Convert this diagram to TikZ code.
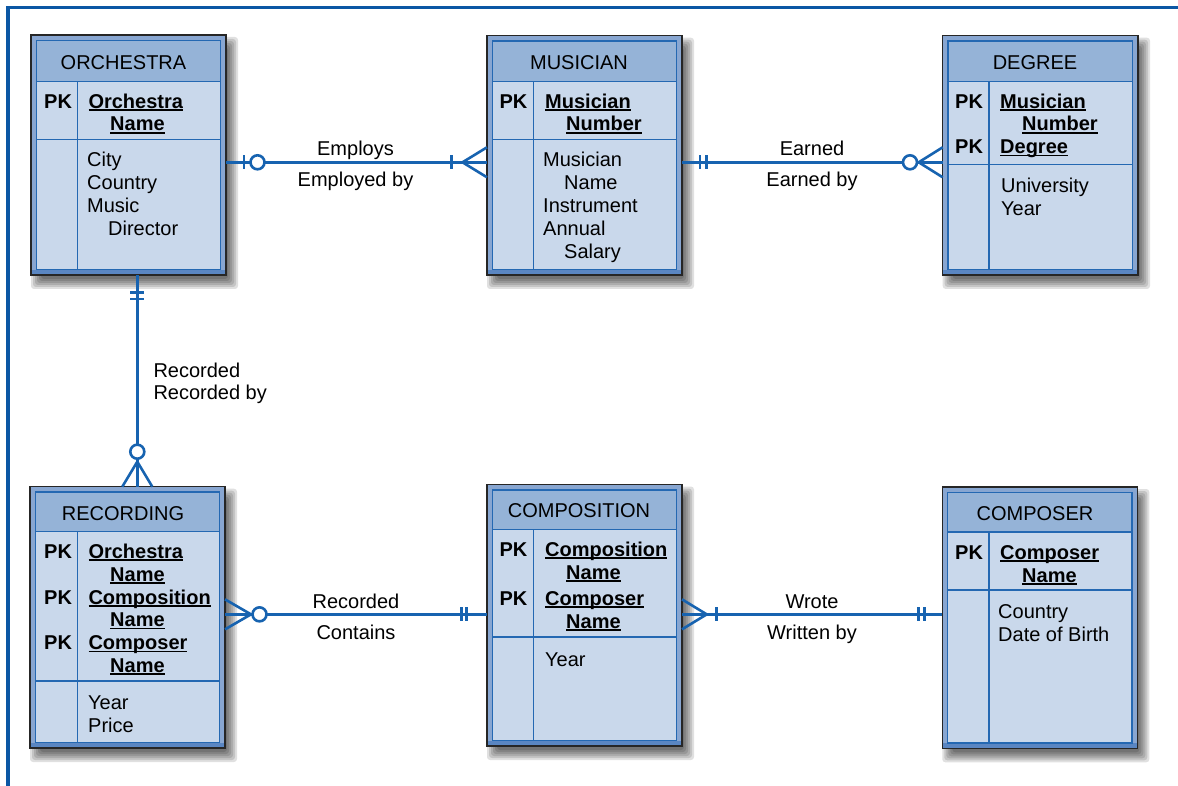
\documentclass[tikz,border=0pt]{standalone}
\usepackage{fontspec}
\setmainfont{Liberation Sans}
\usetikzlibrary{calc}

\definecolor{framecol}{HTML}{0B57A4}
\definecolor{relcol}{HTML}{1763B0}
\definecolor{headfill}{HTML}{95B3D7}
\definecolor{bodyfill}{HTML}{C9D8EB}
\definecolor{ringfill}{HTML}{88A6D1}
\definecolor{ringdark}{HTML}{5A86C2}
\definecolor{linecol}{HTML}{2468B2}
\definecolor{edgecol}{HTML}{262626}

% bold key attribute with a solid underline just below the baseline
\newcommand\keyattr[1]{\setbox0\hbox{\bfseries #1}\rlap{\rule[-2.6pt]{\wd0}{1.4pt}}\box0}

% entity table: #1 name, #2..#5 outer x0,y0,x1,y1, #6 header rule y,
% #7 key column x, #8 body rule y
\newcommand\entity[8]{%
  \foreach \e in {12,10,8,6,4,2}{%
    \fill[black, opacity=0.12, rounded corners=3pt]
      (#2+12-\e, #3+14-\e) rectangle (#4+\e, #5+2+\e);}
  \node[draw=edgecol, line width=1.3pt, fill=ringfill, inner sep=0pt,
        outer sep=0pt, anchor=north west,
        minimum width={#4-#2}, minimum height={#5-#3}] (#1) at (#2,#3) {};
  \fill[ringdark] (#2+0.7,#5-5.3) rectangle (#4-0.7,#5-0.7);
  \fill[bodyfill] (#2+5.3,#3+5.3) rectangle (#4-5.3,#5-5.3);
  \fill[headfill] (#2+5.3,#3+5.3) rectangle (#4-5.3,#6);
  \draw[linecol, line width=1.4pt] (#2+5.3,#3+5.3) rectangle (#4-5.3,#5-5.3);
  \draw[linecol, line width=1.4pt]
    (#2+5.3,#6) -- (#4-5.3,#6)
    (#7,#6) -- (#7,#5-5.3)
    (#2+5.3,#8) -- (#4-5.3,#8);
}

\begin{document}
\begin{tikzpicture}[
  x=1pt, y=-1pt,
  txt/.style={anchor=base west, inner sep=0pt, yshift=-1pt, font=\fontsize{20}{24}\selectfont},
  title/.style={anchor=base, inner sep=0pt, font=\fontsize{20}{24}\selectfont},
  rel/.style={draw=relcol, line width=2.6pt},
]
\useasboundingbox (0,0) rectangle (1178,786);
\fill[white] (0,0) rectangle (1178,786);

% page frame (top and left rules)
\draw[framecol, line width=3.3pt] (8,790) -- (8,7.7) -- (1182,7.7);

% entity tables
\entity{orch}{31}{35}{226}{275}{81.7}{77.7}{139.3}
\entity{mus}{487}{35.7}{682}{275}{81.7}{533.3}{139.3}
\entity{deg}{942.7}{35.7}{1138}{275}{81.7}{989}{164.3}
\entity{rec}{30}{486.7}{225}{748}{531.7}{77.3}{681}
\entity{comp}{487}{484.5}{682}{746}{529.5}{533.3}{637}
\entity{compr}{942.3}{487}{1137.3}{748.3}{532}{989}{590}

% ORCHESTRA
\node[title] (orch-t) at (123.5,70) {ORCHESTRA};
\node[txt] (orch-pk) at (44,107.3) {\textbf{PK}};
\node[txt] (orch-k1) at (88.3,107.3) {\keyattr{Orchestra}};
\node[txt] (orch-k2) at (110,130) {\keyattr{Name}};
\node[txt] (orch-a1) at (87,166) {City};
\node[txt] (orch-a2) at (87,188.8) {Country};
\node[txt] (orch-a3) at (87,211.6) {Music};
\node[txt] (orch-a4) at (108,234.4) {Director};

% MUSICIAN
\node[title] (mus-t) at (579,70) {MUSICIAN};
\node[txt] (mus-pk) at (499.3,107.3) {\textbf{PK}};
\node[txt] (mus-k1) at (545,107.3) {\keyattr{Musician}};
\node[txt] (mus-k2) at (566,130) {\keyattr{Number}};
\node[txt] (mus-a1) at (543,166) {Musician};
\node[txt] (mus-a2) at (564,188.8) {Name};
\node[txt] (mus-a3) at (543,211.6) {Instrument};
\node[txt] (mus-a4) at (543,234.4) {Annual};
\node[txt] (mus-a5) at (564,257.2) {Salary};

% DEGREE
\node[title] (deg-t) at (1035,70) {DEGREE};
\node[txt] (deg-pk1) at (955,107.3) {\textbf{PK}};
\node[txt] (deg-k1) at (1000,107.3) {\keyattr{Musician}};
\node[txt] (deg-k2) at (1022,130) {\keyattr{Number}};
\node[txt] (deg-pk2) at (955,152.5) {\textbf{PK}};
\node[txt] (deg-k3) at (1000,152.5) {\keyattr{Degree}};
\node[txt] (deg-a1) at (1001,191.7) {University};
\node[txt] (deg-a2) at (1001,214.5) {Year};

% RECORDING
\node[title] (rec-t) at (123,520.3) {RECORDING};
\node[txt] (rec-pk1) at (44,557) {\textbf{PK}};
\node[txt] (rec-k1) at (88.3,557) {\keyattr{Orchestra}};
\node[txt] (rec-k2) at (110,580) {\keyattr{Name}};
\node[txt] (rec-pk2) at (44,603) {\textbf{PK}};
\node[txt] (rec-k3) at (88.3,603) {\keyattr{Composition}};
\node[txt] (rec-k4) at (110,625.5) {\keyattr{Name}};
\node[txt] (rec-pk3) at (44,648.5) {\textbf{PK}};
\node[txt] (rec-k5) at (88.3,648.5) {\keyattr{Composer}};
\node[txt] (rec-k6) at (110,671) {\keyattr{Name}};
\node[txt] (rec-a1) at (88,708.3) {Year};
\node[txt] (rec-a2) at (88,731) {Price};

% COMPOSITION
\node[title] (comp-t) at (579,517.5) {COMPOSITION};
\node[txt] (comp-pk1) at (499.3,555) {\textbf{PK}};
\node[txt] (comp-k1) at (545,555) {\keyattr{Composition}};
\node[txt] (comp-k2) at (566,578) {\keyattr{Name}};
\node[txt] (comp-pk2) at (499.3,604) {\textbf{PK}};
\node[txt] (comp-k3) at (545,604) {\keyattr{Composer}};
\node[txt] (comp-k4) at (566,627) {\keyattr{Name}};
\node[txt] (comp-a1) at (545,665) {Year};

% COMPOSER
\node[title] (compr-t) at (1035,520.3) {COMPOSER};
\node[txt] (compr-pk) at (955,558) {\textbf{PK}};
\node[txt] (compr-k1) at (1000,558) {\keyattr{Composer}};
\node[txt] (compr-k2) at (1022,581) {\keyattr{Name}};
\node[txt] (compr-a1) at (998,617) {Country};
\node[txt] (compr-a2) at (998,640) {Date of Birth};

% ORCHESTRA -- MUSICIAN (one, optional  /  many, mandatory)
\coordinate (a1) at ([yshift=-7.3pt]orch.east);
\coordinate (a2) at (a1 -| mus.west);
\draw[rel] (a1) -- (a2);
\draw[rel] ($(a1)+(18,0)$) +(0,-7) -- +(0,7);
\draw[rel, fill=white] ($(a1)+(31.5,0)$) circle (7pt);
\draw[rel] ($(a2)+(-35.5,0)$) +(0,-7) -- +(0,7);
\draw[rel] ($(a2)+(0,-15)$) -- ($(a2)+(-24.5,0)$) -- ($(a2)+(0,15)$);

% MUSICIAN -- DEGREE (one and only one  /  zero or many)
\coordinate (b1) at (a1 -| mus.east);
\coordinate (b2) at (a1 -| deg.west);
\draw[rel] (b1) -- (b2);
\draw[rel] ($(b1)+(18,0)$) +(0,-7) -- +(0,7);
\draw[rel] ($(b1)+(24.5,0)$) +(0,-7) -- +(0,7);
\draw[rel] ($(b2)+(0,-15)$) -- ($(b2)+(-24,0)$) -- ($(b2)+(0,15)$);
\draw[rel, fill=white] ($(b2)+(-32.7,0)$) circle (7pt);

% ORCHESTRA -- RECORDING
\coordinate (c1) at ([xshift=8.8pt]orch.south);
\coordinate (c2) at (c1 |- rec.north);
\draw[rel] (c1) -- (c2);
\draw[rel] ($(c1)+(0,17.7)$) +(-7,0) -- +(7,0);
\draw[rel] ($(c1)+(0,24)$) +(-7,0) -- +(7,0);
\draw[rel] ($(c2)+(-15,0)$) -- ($(c2)+(0,-25)$) -- ($(c2)+(15,0)$);
\draw[rel, fill=white] ($(c2)+(0,-35)$) circle (7pt);

% RECORDING -- COMPOSITION
\coordinate (d1) at ([yshift=3pt]rec.east);
\coordinate (d2) at (d1 -| comp.west);
\draw[rel] (d1) -- (d2);
\draw[rel] ($(d1)+(0,-15)$) -- ($(d1)+(26,0)$) -- ($(d1)+(0,15)$);
\draw[rel, fill=white] ($(d1)+(34.5,0)$) circle (7pt);
\draw[rel] ($(d2)+(-25.3,0)$) +(0,-7) -- +(0,7);
\draw[rel] ($(d2)+(-20.3,0)$) +(0,-7) -- +(0,7);

% COMPOSITION -- COMPOSER
\coordinate (f1) at (d1 -| comp.east);
\coordinate (f2) at (d1 -| compr.west);
\draw[rel] (f1) -- (f2);
\draw[rel] ($(f1)+(0,-15)$) -- ($(f1)+(24.7,0)$) -- ($(f1)+(0,15)$);
\draw[rel] ($(f1)+(34.7,0)$) +(0,-7) -- +(0,7);
\draw[rel] ($(f2)+(-23.7,0)$) +(0,-7) -- +(0,7);
\draw[rel] ($(f2)+(-17.7,0)$) +(0,-7) -- +(0,7);

% relationship names
\node[title] (l-employs) at (355.5,155.5) {Employs};
\node[title] (l-employed) at (355.5,187) {Employed by};
\node[title] (l-earned) at (812,155.5) {Earned};
\node[title] (l-earnedby) at (812,187) {Earned by};
\node[txt] (l-rec1) at (153.3,376) {Recorded};
\node[txt] (l-rec2) at (153.3,398.5) {Recorded by};
\node[title] (l-rec3) at (356,608.3) {Recorded};
\node[title] (l-contains) at (356,639.3) {Contains};
\node[title] (l-wrote) at (812,608.3) {Wrote};
\node[title] (l-written) at (812,639.3) {Written by};
\end{tikzpicture}
\end{document}
